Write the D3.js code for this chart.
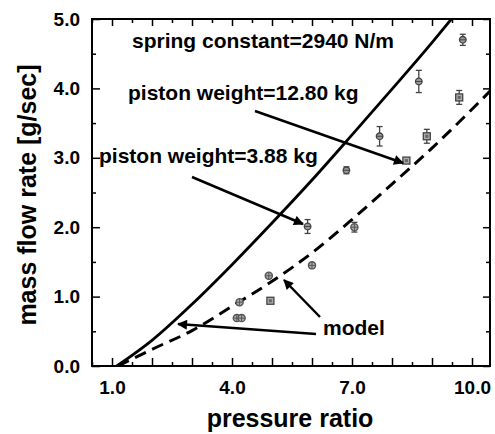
<!DOCTYPE html>
<html><head><meta charset="utf-8">
<script src="https://cdn.jsdelivr.net/npm/d3@7"></script>
<style>body{margin:0;background:#fff}svg{display:block}text{font-family:"Liberation Sans",Arial,sans-serif;font-weight:bold}</style>
</head><body><svg id="c" width="495" height="434"></svg>
<script>
// ---- data ----
const xMajorTicks = [1,2,3,4,5,6,7,8,9,10];
const xLabelTicks = [1,4,7,10];
const yMajorTicks = [0,1,2,3,4,5];
const modelSolidX = [1.12,2,3,4,5,6,7,8,9,9.5];
const modelSolidY = [0,0.37,0.89,1.46,2.06,2.68,3.33,3.99,4.66,5.01];
const modelDashX = [1.15,2,3,4,5,6,7,8,9,10,10.45];
const modelDashY = [0,0.24,0.51,0.86,1.22,1.63,2.11,2.62,3.14,3.70,3.96];
const w388X = [5.89,6.86,7.69,8.67,9.77];
const w388Y = [2.01,2.82,3.31,4.10,4.70];
const w388Err = [0.10,0.05,0.14,0.16,0.08];
const w1280X = [4.96,8.36,8.87,9.68];
const w1280Y = [0.94,2.96,3.31,3.87];
const w1280Err = [0.03,0.03,0.10,0.10];
const otherX = [4.12,4.24,4.19,4.92,6.0,7.06];
const otherY = [0.69,0.69,0.92,1.30,1.45,2.00];
const otherErr = [0.02,0.02,0.03,0.03,0.03,0.07];

const svg = d3.select("#c");
const L=92,R=490,T=19,B=366;
const x = d3.scaleLinear().domain([0.5,10.45]).range([L,R]);
const y = d3.scaleLinear().domain([0,5]).range([B,T]);

svg.append("defs").append("clipPath").attr("id","clip")
  .append("rect").attr("x",L).attr("y",T).attr("width",R-L).attr("height",B-T);

function styleAxis(g){g.select(".domain").remove();g.selectAll("line").attr("stroke","#000").attr("stroke-width",1.5);
  g.selectAll("text").attr("font-size",19).attr("fill","#000");}
const minorX = d3.range(0.5,10.5,0.5).filter(v=>v%1!==0);
const minorY = d3.range(0.5,5,1);
// bottom
svg.append("g").attr("transform",`translate(0,${B})`)
  .call(d3.axisBottom(x).tickValues(xMajorTicks).tickSize(-8).tickPadding(15)
    .tickFormat(d=>xLabelTicks.includes(d)?d3.format(".1f")(d):"")).call(styleAxis);
svg.append("g").attr("transform",`translate(0,${B})`)
  .call(d3.axisBottom(x).tickValues(minorX).tickSize(-4).tickFormat("")).call(styleAxis);
// top
svg.append("g").attr("transform",`translate(0,${T})`)
  .call(d3.axisTop(x).tickValues(xMajorTicks).tickSize(-7).tickFormat("")).call(styleAxis);
svg.append("g").attr("transform",`translate(0,${T})`)
  .call(d3.axisTop(x).tickValues(minorX).tickSize(-4).tickFormat("")).call(styleAxis);
// left
svg.append("g").attr("transform",`translate(${L},0)`)
  .call(d3.axisLeft(y).tickValues(yMajorTicks).tickSize(-8).tickPadding(12).tickFormat(d3.format(".1f"))).call(styleAxis);
svg.append("g").attr("transform",`translate(${L},0)`)
  .call(d3.axisLeft(y).tickValues(minorY).tickSize(-4).tickFormat("")).call(styleAxis);
// right
svg.append("g").attr("transform",`translate(${R},0)`)
  .call(d3.axisRight(y).tickValues(yMajorTicks).tickSize(-7).tickFormat("")).call(styleAxis);
svg.append("g").attr("transform",`translate(${R},0)`)
  .call(d3.axisRight(y).tickValues(minorY).tickSize(-4).tickFormat("")).call(styleAxis);

svg.append("rect").attr("x",L).attr("y",T).attr("width",R-L).attr("height",B-T)
  .attr("fill","none").attr("stroke","#000").attr("stroke-width",2);

// model lines
const line = d3.line().x(d=>x(d[0])).y(d=>y(d[1])).curve(d3.curveMonotoneX);
const pg = svg.append("g").attr("clip-path","url(#clip)");
pg.append("path").datum(modelSolidX.map((v,i)=>[v,modelSolidY[i]])).attr("d",line)
  .attr("fill","none").attr("stroke","#000").attr("stroke-width",2.8);
pg.append("path").datum(modelDashX.map((v,i)=>[v,modelDashY[i]])).attr("d",line)
  .attr("fill","none").attr("stroke","#000").attr("stroke-width",3).attr("stroke-dasharray","12,7");

// markers
function errBars(xs,ys,es){
  xs.forEach((v,i)=>{
    const cx=x(v), y1=y(ys[i]+es[i]), y2=y(ys[i]-es[i]);
    const g=pg.append("g").attr("stroke","#444").attr("stroke-width",1.3);
    g.append("line").attr("x1",cx).attr("x2",cx).attr("y1",y1).attr("y2",y2);
    g.append("line").attr("x1",cx-3).attr("x2",cx+3).attr("y1",y1).attr("y2",y1);
    g.append("line").attr("x1",cx-3).attr("x2",cx+3).attr("y1",y2).attr("y2",y2);
  });
}
errBars(w388X,w388Y,w388Err); errBars(w1280X,w1280Y,w1280Err); errBars(otherX,otherY,otherErr);
w388X.forEach((v,i)=>{
  const g=pg.append("g").attr("transform",`translate(${x(v)},${y(w388Y[i])})`);
  g.append("circle").attr("r",3.3).attr("fill","#999").attr("stroke","#444").attr("stroke-width",1.3);
  g.append("line").attr("x1",-3.3).attr("x2",3.3).attr("stroke","#444").attr("stroke-width",1);
});
w1280X.forEach((v,i)=>{
  const g=pg.append("g").attr("transform",`translate(${x(v)},${y(w1280Y[i])})`);
  g.append("rect").attr("x",-3.5).attr("y",-3.5).attr("width",7).attr("height",7).attr("fill","#aaa").attr("stroke","#444").attr("stroke-width",1.3);
  g.append("rect").attr("x",-1.5).attr("y",-1.5).attr("width",3).attr("height",3).attr("fill","#666");
});
otherX.forEach((v,i)=>{
  const g=pg.append("g").attr("transform",`translate(${x(v)},${y(otherY[i])})`);
  g.append("circle").attr("r",3.6).attr("fill","#aaa").attr("stroke","#555").attr("stroke-width",1.3);
  g.append("line").attr("x1",-3.6).attr("x2",3.6).attr("stroke","#555").attr("stroke-width",1);
  g.append("line").attr("y1",-3.6).attr("y2",3.6).attr("stroke","#555").attr("stroke-width",1);
});

// annotations
const ann = svg.append("g").attr("fill","#000");
ann.append("text").attr("x",132).attr("y",48).attr("font-size",21).text("spring constant=2940 N/m");
ann.append("text").attr("x",128).attr("y",100).attr("font-size",21).text("piston weight=12.80 kg");
ann.append("text").attr("x",99).attr("y",163).attr("font-size",21).text("piston weight=3.88 kg");
ann.append("text").attr("x",323).attr("y",335).attr("font-size",21).text("model");

svg.append("defs").append("marker").attr("id","ah").attr("viewBox","0 0 10 10").attr("refX",9).attr("refY",5)
  .attr("markerWidth",4.5).attr("markerHeight",4).attr("orient","auto").attr("markerUnits","strokeWidth")
  .append("path").attr("d","M0,0L10,5L0,10z").attr("fill","#000");
const arrows = [[255,111,403,163],[192,177,303,224],[316,334,178,324],[320,317,284,280]];
arrows.forEach(a=>svg.append("line").attr("x1",a[0]).attr("y1",a[1]).attr("x2",a[2]).attr("y2",a[3])
  .attr("stroke","#000").attr("stroke-width",2.5).attr("marker-end","url(#ah)"));

// axis titles
svg.append("text").attr("x",290).attr("y",427).attr("text-anchor","middle").attr("font-size",25).text("pressure ratio");
svg.append("text").attr("transform","translate(36,195) rotate(-90)").attr("text-anchor","middle").attr("font-size",25).text("mass flow rate [g/sec]");
</script></body></html>
